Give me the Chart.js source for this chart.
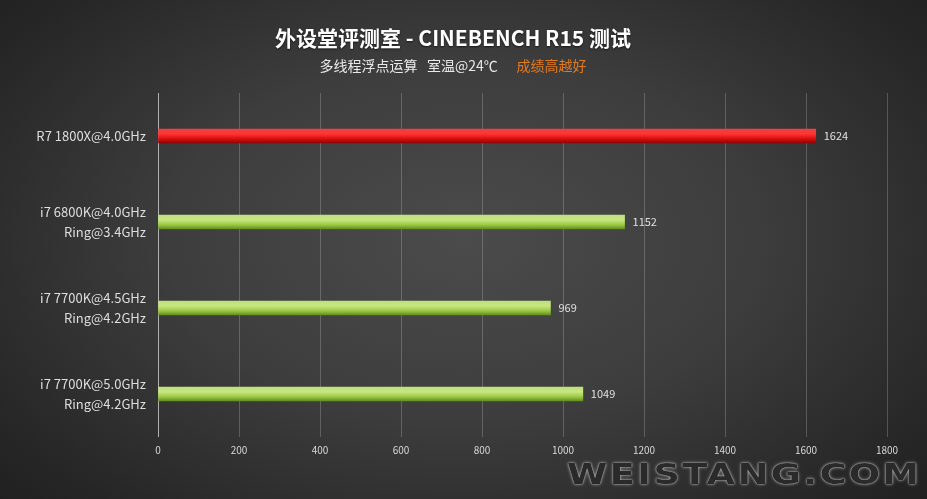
<!DOCTYPE html>
<html>
<head>
<meta charset="utf-8">
<script src="https://cdn.jsdelivr.net/npm/chart.js@4/dist/chart.umd.min.js"></script>
<style>
  html, body { margin: 0; padding: 0; }
  body {
    width: 927px; height: 499px; overflow: hidden; position: relative;
    background: radial-gradient(ellipse 70% 80% at 50% 48%, #4b4b4b 0%, #3d3d3d 45%, #262626 85%, #1f1f1f 100%);
  }
  #wrap { position: absolute; left: 0; top: 0; width: 927px; height: 499px; }
  #mark {
    position: absolute; left: 567px; top: 457px; width: 350px;
    font-family: "DejaVu Sans", sans-serif; font-weight: bold; font-size: 29px;
    letter-spacing: 2px; color: #2a2a2a; white-space: nowrap;
    text-shadow: 0 0 3px #bbb, 0 0 1px #ddd;
    transform: scaleX(1.26); transform-origin: left top;
  }
</style>
</head>
<body>
<div id="wrap"><canvas id="myChart" width="927" height="499"></canvas></div>
<div id="mark">WEISTANG.COM</div>
<script>
// chart text
const titleText = "外设堂评测室 - CINEBENCH R15 测试";
const subText = "多线程浮点运算   室温@24℃";
const subNote = "成绩高越好";

// categories (multi-line labels) and scores
const cpuLabels = [
  ["R7 1800X@4.0GHz"],
  ["i7 6800K@4.0GHz", "Ring@3.4GHz"],
  ["i7 7700K@4.5GHz", "Ring@4.2GHz"],
  ["i7 7700K@5.0GHz", "Ring@4.2GHz"],
];
const scores = [1624, 1152, 969, 1049];
const isAmd = [true, false, false, false];

const xTicks = [0, 200, 400, 600, 800, 1000, 1200, 1400, 1600, 1800];

const FONT = '"Noto Sans CJK SC", "Noto Sans", sans-serif';

// gradient for each bar, top light -> bottom dark
function barFill(context) {
  const amd = isAmd[context.dataIndex];
  const chart = context.chart;
  const yScale = chart.scales.y;
  const yc = yScale ? yScale.getPixelForValue(context.dataIndex) : NaN;
  if (!isFinite(yc)) return amd ? "#e01010" : "#a4cf48";
  const g = chart.ctx.createLinearGradient(0, yc - 7, 0, yc + 7);
  if (amd) {
    g.addColorStop(0, "#f04040");
    g.addColorStop(0.35, "#ff3434");
    g.addColorStop(0.7, "#d80e0e");
    g.addColorStop(1, "#8e0505");
  } else {
    g.addColorStop(0, "#bfe07a");
    g.addColorStop(0.35, "#c8e682");
    g.addColorStop(0.7, "#9cc844");
    g.addColorStop(1, "#62901e");
  }
  return g;
}

// titles + value labels
const textPlugin = {
  id: "textPlugin",
  afterDraw(chart) {
    const ctx = chart.ctx;
    ctx.save();
    ctx.textBaseline = "middle";
    ctx.textAlign = "center";
    ctx.fillStyle = "#ffffff";
    ctx.shadowColor = "rgba(0,0,0,0.6)";
    ctx.shadowBlur = 2;
    ctx.shadowOffsetY = 1;
    ctx.font = "bold 21px " + FONT;
    ctx.fillText(titleText, 453, 38);
    ctx.shadowColor = "transparent";

    ctx.font = "14px " + FONT;
    ctx.textAlign = "left";
    const gap = "      ";
    const w1 = ctx.measureText(subText + gap).width;
    const w2 = ctx.measureText(subNote).width;
    const x0 = 453 - (w1 + w2) / 2;
    ctx.fillStyle = "#e8e8e8";
    ctx.fillText(subText + gap, x0, 66);
    ctx.fillStyle = "#e27a22";
    ctx.fillText(subNote, x0 + w1, 66);

    // values at bar ends
    const meta = chart.getDatasetMeta(0);
    ctx.font = "11px " + FONT;
    ctx.fillStyle = "#e0e0e0";
    meta.data.forEach((bar, i) => {
      ctx.fillText(String(scores[i]), bar.x + 8, bar.y);
    });
    ctx.restore();
  },
};

const data = {
  labels: cpuLabels,
  datasets: [
    {
      data: scores,
      backgroundColor: barFill,
      borderWidth: 0,
      barThickness: 14,
    },
  ],
};

const config = {
  type: "bar",
  data: data,
  options: {
    indexAxis: "y",
    responsive: false,
    animation: false,
    layout: { padding: { top: 93, right: 40, bottom: 36, left: 0 } },
    plugins: {
      legend: { display: false },
      title: { display: false },
      tooltip: { enabled: false },
    },
    scales: {
      x: {
        min: 0,
        max: 1800,
        afterBuildTicks: (scale) => {
          scale.ticks = xTicks.map((v) => ({ value: v }));
        },
        grid: {
          color: (c) => (c.tick && c.tick.value === 0 ? "#b0b0b0" : "rgba(255,255,255,0.2)"),
          drawTicks: false,
        },
        border: { display: false },
        ticks: {
          color: "#d8d8d8",
          font: { family: FONT, size: 10 },
          padding: 7,
          maxRotation: 0,
          callback: (v) => String(v),
        },
      },
      y: {
        afterFit: (scale) => {
          scale.width = 158;
        },
        grid: { display: false, drawTicks: false },
        border: { display: false },
        ticks: {
          color: "#dedede",
          font: { family: FONT, size: 13, lineHeight: 1.55 },
          padding: 12,
        },
      },
    },
  },
  plugins: [textPlugin],
};

const myChart = new Chart(document.getElementById("myChart"), config);
</script>
</body>
</html>
